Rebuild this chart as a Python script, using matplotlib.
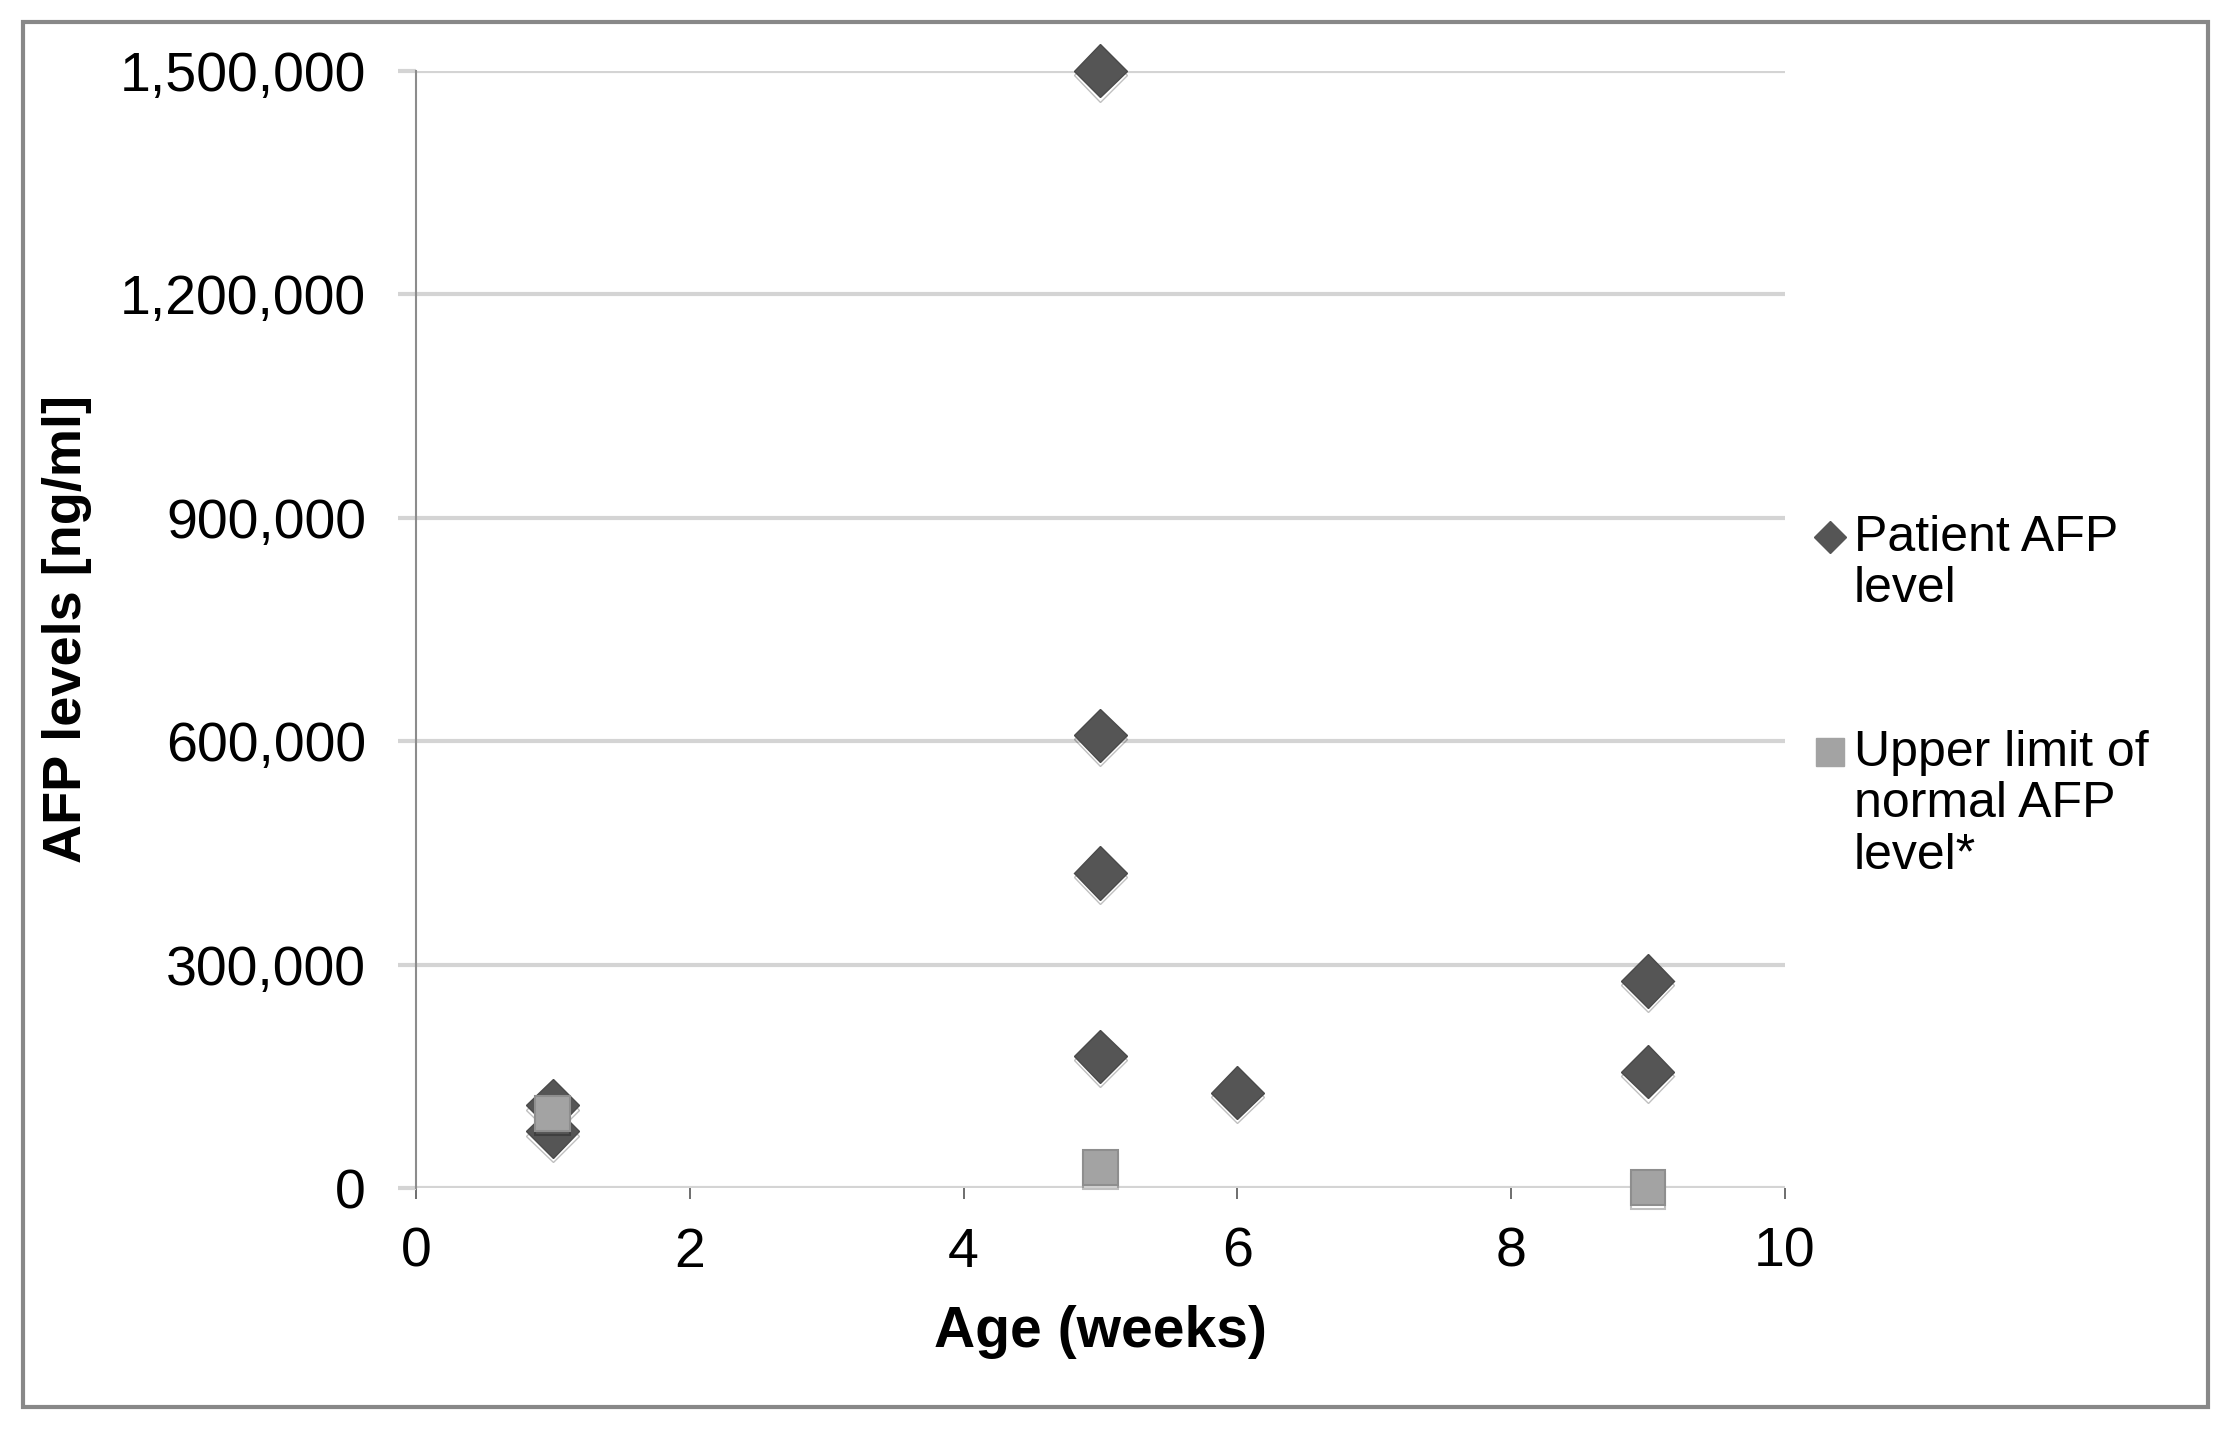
import matplotlib
matplotlib.use("Agg")
import matplotlib.pyplot as plt
import matplotlib.patheffects as pe
from matplotlib.lines import Line2D
from matplotlib.patches import Rectangle
from matplotlib.ticker import FuncFormatter

plt.rcParams["font.family"] = ["Liberation Sans", "DejaVu Sans"]

# patient AFP measurements (age in weeks, ng/ml)
patient_age = [1, 1, 5, 5, 5, 5, 6, 9, 9]
patient_afp = [111000, 76000, 1500000, 608000, 423000, 177000, 128000, 278000, 156000]

# upper limit of normal AFP for the same ages
limit_age = [1, 5, 9]
limit_afp = [100000, 28000, 1000]

x_ticks = [0, 2, 4, 6, 8, 10]
y_ticks = [0, 300000, 600000, 900000, 1200000, 1500000]

fig = plt.figure(figsize=(22.28, 14.31), dpi=100)
ax = fig.add_axes([0.1867, 0.1698, 0.6144, 0.7806])

ax.set_xlim(0, 10)
ax.set_ylim(0, 1500000)
ax.set_xticks(x_ticks)
ax.set_yticks(y_ticks)
ax.yaxis.set_major_formatter(FuncFormatter(lambda v, p: f"{int(v):,}"))

ax.grid(axis="y", color="#d4d4d4", linewidth=3)
ax.set_axisbelow(True)
for s in ["top", "right", "bottom"]:
    ax.spines[s].set_visible(False)
ax.spines["left"].set_color("#8c8c8c")
ax.spines["left"].set_linewidth(1.5)

ax.tick_params(axis="y", length=13, width=3, color="#d4d4d4", pad=23, labelsize=40)
ax.tick_params(axis="x", length=8, width=1.2, color="#555555", pad=20, labelsize=40)

shadow = [pe.SimpleLineShadow(offset=(0, -3), shadow_color="black", alpha=0.25), pe.Normal()]

ax.plot(patient_age, patient_afp, linestyle="none", marker="D", markersize=27,
        color="#555555", markeredgecolor="#4a4a4a", clip_on=False, zorder=3,
        path_effects=shadow)
ax.plot(limit_age, limit_afp, linestyle="none", marker="s", markersize=25,
        color="#a3a3a3", markeredgecolor="#8e8e8e", markeredgewidth=1.5,
        clip_on=False, zorder=4, path_effects=shadow)

ax.set_xlabel("Age (weeks)", fontsize=41, fontweight="bold")
ax.xaxis.set_label_coords(0.5, -0.105)
ax.set_ylabel("AFP levels [ng/ml]", fontsize=39, fontweight="bold")
ax.yaxis.set_label_coords(-0.237, 0.5)

# legend drawn by hand so the marker sits on the first text line
fig.add_artist(Line2D([1830 / 2228], [1 - 537 / 1431], marker="D", markersize=16,
                      color="#555555", linestyle="none"))
fig.text(1854 / 2228, 1 - 515 / 1431, "Patient AFP\nlevel", fontsize=36,
         va="top", ha="left", linespacing=1.15)
fig.add_artist(Line2D([1830 / 2228], [1 - 752 / 1431], marker="s", markersize=20,
                      color="#a3a3a3", linestyle="none"))
fig.text(1854 / 2228, 1 - 730 / 1431, "Upper limit of\nnormal AFP\nlevel*", fontsize=36,
         va="top", ha="left", linespacing=1.15)

# outer frame
fig.add_artist(Rectangle((23 / 2228, 1 - 1407 / 1431), (2208 - 23) / 2228, (1407 - 22) / 1431,
                         transform=fig.transFigure, fill=False, edgecolor="#888888",
                         linewidth=3))

fig.savefig("out.png", dpi=100)
